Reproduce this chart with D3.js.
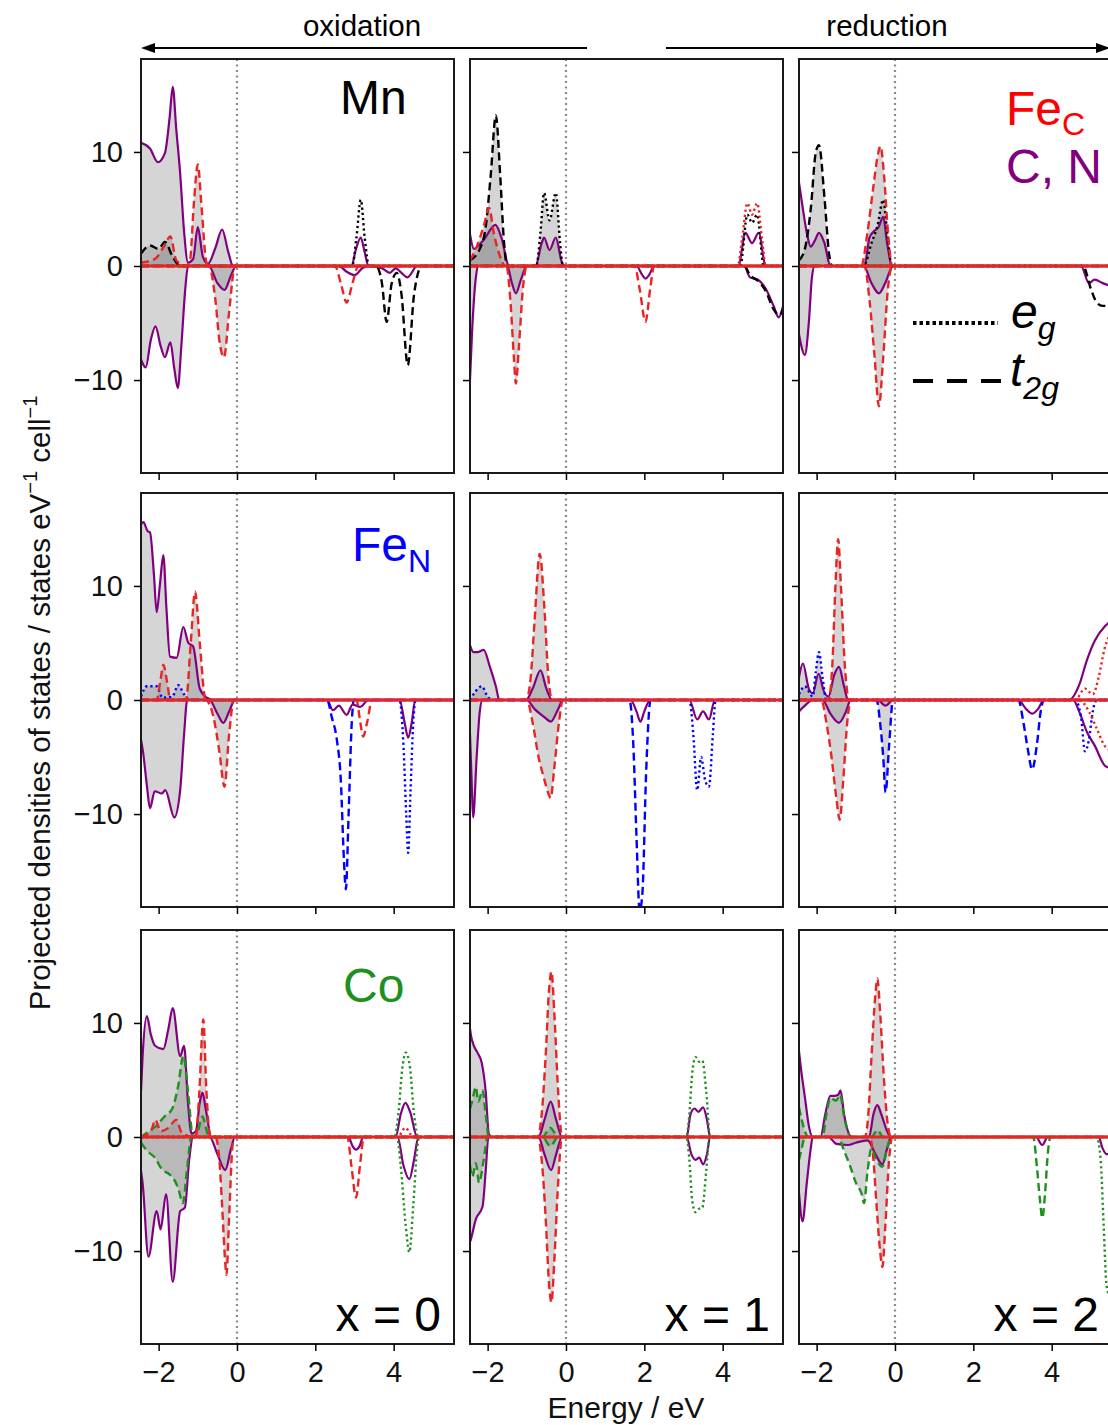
<!DOCTYPE html>
<html>
<head>
<meta charset="utf-8">
<script src="https://cdn.jsdelivr.net/npm/d3@7"></script>
<style>
  body { margin: 0; background: #fff; }
  text { font-family: "Liberation Sans", Arial, sans-serif; }
</style>
</head>
<body>
<svg width="1108" height="1425"></svg>
<script>
// axis ranges and tick labels
const energyDomain = [-2.45, 5.54];
const dosDomain = [-18.15, 18.15];
const energyTicks = [-2, 0, 2, 4];
const dosTicks = [-10, 0, 10];
const xValues = ["x = 0", "x = 1", "x = 2"];
const metals = ["Mn", "Fe", "Co"];
const metalSubs = ["", "N", ""];

// ---- Mn row : [energy (eV), PDOS] ----
const mn0CnUp = [[-2.45,10.8],[-2.22,10.3],[-2.02,9.1],[-1.84,9.9],[-1.72,13],[-1.64,15.7],[-1.55,12],[-1.45,8.1],[-1.35,3],[-1.25,0.3],[-1.12,0.6],[-1.0,3.4],[-0.87,0.8],[-0.74,0.2],[-0.55,1.6],[-0.38,3.2],[-0.22,1.2],[-0.1,0],[2.92,0],[3.04,1.5],[3.16,2.5],[3.26,1.2],[3.36,0]];
const mn0CnDn = [[-2.45,-8.2],[-2.33,-8.9],[-2.2,-6.5],[-2.08,-5.3],[-1.95,-7],[-1.84,-8.0],[-1.7,-6.7],[-1.6,-9],[-1.51,-10.7],[-1.42,-7],[-1.32,-2],[-1.25,0],[-0.72,0],[-0.5,-1.5],[-0.32,-2.1],[-0.15,-0.8],[-0.02,0],[2.6,0],[2.8,-0.5],[3.0,-0.8],[3.2,-0.2],[3.35,0],[3.7,-0.2],[3.9,-0.6],[4.05,-0.2],[4.2,-0.6],[4.35,-1.0],[4.6,0]];
const mn0T2gUp = [[-2.45,1.1],[-2.22,1.8],[-2.0,1.5],[-1.84,2.1],[-1.64,0.8],[-1.45,0]];
const mn0T2gDn = [[3.55,0],[3.7,-1.5],[3.82,-4.9],[3.95,-1.5],[4.08,-0.6],[4.2,-2.5],[4.36,-8.7],[4.52,-2.5],[4.72,0]];
const mn0EgUp = [[2.94,0],[3.05,2.5],[3.16,5.8],[3.26,2.5],[3.37,0]];
const mn0FecT2gUp = [[-2.45,0.3],[-2.1,0.6],[-1.85,1.8],[-1.7,2.6],[-1.55,0.5],[-1.3,0],[-1.2,0.5],[-1.1,5.5],[-1.0,8.9],[-0.9,5],[-0.78,0.3],[-0.7,0]];
const mn0FecT2gDn = [[-0.72,0],[-0.55,-3],[-0.45,-6.5],[-0.33,-8.0],[-0.2,-4],[-0.05,0],[2.5,0],[2.65,-1.5],[2.8,-3.2],[2.95,-1.5],[3.1,0]];

const mn1CnUp = [[-2.45,2.8],[-2.35,1.5],[-2.1,2.3],[-1.8,3.6],[-1.65,2.5],[-1.45,0],[-0.78,0],[-0.62,2.0],[-0.56,2.5],[-0.42,1.4],[-0.26,2.5],[-0.12,0.5],[-0.05,0],[4.4,0],[4.58,2.9],[4.75,2.0],[4.92,2.9],[5.1,0]];
const mn1CnDn = [[-2.45,-10],[-2.4,-6],[-2.3,-1],[-2.25,0],[-1.5,0],[-1.38,-1.5],[-1.28,-2.4],[-1.15,-1.2],[-1.0,0],[1.8,0],[1.95,-0.8],[2.03,-1.1],[2.12,-0.8],[2.25,0],[4.55,0],[4.7,-1.0],[4.9,-1.2],[5.1,-2],[5.3,-3.5],[5.43,-4.5],[5.54,-3.5]];
const mn1T2gUp = [[-2.45,0.5],[-2.2,1.5],[-2.05,3.4],[-1.92,8],[-1.79,13.2],[-1.68,8],[-1.58,2],[-1.5,0]];
const mn1T2gDn = [[4.55,0],[4.7,-0.8],[4.9,-1.3],[5.1,-2.2],[5.3,-3.8],[5.45,-4.3],[5.54,-3.8]];
const mn1EgUp = [[-0.76,0],[-0.65,3],[-0.56,6.4],[-0.42,4.0],[-0.26,6.4],[-0.15,2],[-0.08,0],[4.45,0],[4.63,4.5],[4.75,3.8],[4.88,4.5],[5.05,0]];
const mn1FecT2gUp = [[-2.45,0.5],[-2.3,1.5],[-2.1,3.5],[-1.96,5.1],[-1.85,3],[-1.7,1],[-1.55,0]];
const mn1FecT2gDn = [[-1.52,0],[-1.42,-3],[-1.33,-8],[-1.28,-10.3],[-1.2,-7],[-1.1,-2],[-1.0,0],[1.75,0],[1.88,-2],[2.03,-4.9],[2.15,-2],[2.25,0]];
const mn1FecEgUp = [[4.38,0],[4.5,2.5],[4.63,5.5],[4.75,4.5],[4.88,5.5],[5.0,2.5],[5.1,0]];

const mn2CnUp = [[-2.45,7.3],[-2.35,5],[-2.25,2.9],[-2.15,1.7],[-2.05,2.2],[-1.94,2.9],[-1.8,2.0],[-1.65,0],[-0.78,0],[-0.65,2.5],[-0.55,3.0],[-0.42,3.4],[-0.3,4.3],[-0.2,2],[-0.07,0]];
const mn2CnDn = [[-2.45,-6],[-2.3,-7.8],[-2.2,-5],[-2.12,-1],[-2.05,0],[-0.8,0],[-0.6,-1.5],[-0.41,-2.4],[-0.25,-1.5],[-0.05,0],[4.75,0],[4.95,-1.5],[5.1,-1.2],[5.3,-1.5],[5.54,-1.8]];
const mn2T2gUp = [[-2.45,0.5],[-2.3,1.5],[-2.15,5],[-2.02,10],[-1.94,10.6],[-1.8,6],[-1.68,1],[-1.6,0]];
const mn2T2gDn = [[4.8,0],[5.0,-2],[5.15,-3.2],[5.3,-3.5],[5.54,-3.5]];
const mn2EgUp = [[-0.8,0],[-0.6,2],[-0.45,3.5],[-0.3,5.8],[-0.2,3],[-0.08,0]];
const mn2FecT2gUp = [[-0.86,0],[-0.7,3],[-0.55,7],[-0.45,9.5],[-0.37,10.5],[-0.28,8],[-0.18,3],[-0.07,0]];
const mn2FecT2gDn = [[-0.78,0],[-0.65,-3],[-0.52,-8],[-0.41,-12.3],[-0.3,-8],[-0.18,-2],[-0.07,0]];

// ---- Fe_N row ----
const fe0CnUp = [[-2.45,15.4],[-2.39,15.6],[-2.28,14.8],[-2.22,14.7],[-2.12,11],[-2.05,7.7],[-1.97,10],[-1.88,12.7],[-1.8,8],[-1.71,3.8],[-1.54,3.7],[-1.37,6.4],[-1.24,5.0],[-1.12,4.7],[-0.95,1],[-0.77,0.2],[-0.6,0]];
const fe0CnDn = [[-2.45,-3.5],[-2.4,-4.5],[-2.3,-7.5],[-2.22,-9.5],[-2.1,-8.0],[-1.92,-8.2],[-1.83,-7.9],[-1.6,-10.3],[-1.45,-7.9],[-1.35,-3],[-1.27,0],[-0.7,0],[-0.5,-1.2],[-0.35,-2.0],[-0.2,-1.0],[-0.05,0],[2.3,0],[2.45,-0.9],[2.6,-0.5],[2.8,-1.3],[2.95,-0.4],[3.15,-0.6],[3.35,0],[4.15,0],[4.28,-2],[4.37,-3.3],[4.46,-2],[4.55,0]];
const fe0T2gDn = [[2.3,0],[2.42,-1.5],[2.55,-3.5],[2.65,-7],[2.73,-14],[2.78,-16.6],[2.85,-10],[2.93,-2],[2.98,0]];
const fe0EgUp = [[-2.45,0.3],[-2.3,1.2],[-2.05,1.2],[-1.9,0.2],[-1.65,0.3],[-1.5,1.3],[-1.35,0.5],[-1.2,0]];
const fe0EgDn = [[4.15,0],[4.25,-4],[4.32,-10],[4.37,-13.4],[4.43,-8],[4.5,-2],[4.56,0]];
const fe0FecT2gUp = [[-2.05,0],[-1.95,1.8],[-1.88,3.1],[-1.78,1.5],[-1.7,0],[-1.3,0],[-1.18,5],[-1.07,9.5],[-0.95,5],[-0.8,0]];
const fe0FecT2gDn = [[-0.8,0],[-0.6,-1.5],[-0.45,-4.5],[-0.32,-7.6],[-0.2,-3],[-0.08,0],[3.05,0],[3.15,-2],[3.22,-3.2],[3.32,-2],[3.45,0]];

const fe1CnUp = [[-2.45,4.8],[-2.36,4.2],[-2.26,4.2],[-2.1,4.4],[-1.95,3],[-1.79,1.2],[-1.7,0],[-1.02,0],[-0.85,1],[-0.65,2.6],[-0.5,1],[-0.35,0]];
const fe1CnDn = [[-2.45,-3],[-2.4,-8],[-2.37,-10.3],[-2.28,-5],[-2.2,-1],[-2.13,0],[-1.0,0],[-0.8,-0.8],[-0.55,-1.5],[-0.39,-1.9],[-0.2,-0.8],[-0.08,0],[1.65,0],[1.8,-1],[1.9,-1.9],[2.0,-1],[2.15,0],[3.15,0],[3.35,-1.7],[3.5,-1.0],[3.65,-1.7],[3.8,0]];
const fe1T2gDn = [[1.62,0],[1.72,-4],[1.8,-12],[1.88,-18.5],[1.95,-17],[2.05,-6],[2.16,0]];
const fe1EgUp = [[-2.45,0],[-2.3,0.8],[-2.15,1.2],[-2.0,0.3],[-1.85,0]];
const fe1EgDn = [[3.15,0],[3.25,-3],[3.35,-7.9],[3.45,-5],[3.55,-7],[3.65,-7.6],[3.75,-3],[3.82,0]];
const fe1FecT2gUp = [[-1.02,0],[-0.9,2],[-0.8,7],[-0.67,12.8],[-0.55,8],[-0.45,2],[-0.35,0]];
const fe1FecT2gDn = [[-1.0,0],[-0.85,-2],[-0.7,-5],[-0.55,-7],[-0.45,-8.2],[-0.39,-8.6],[-0.3,-6],[-0.18,-2],[-0.08,0]];

const fe2CnUp = [[-2.45,2],[-2.35,3.2],[-2.2,1.0],[-2.1,0.6],[-1.95,2.3],[-1.82,0.8],[-1.7,0.3],[-1.55,2.2],[-1.43,2.9],[-1.3,1.2],[-1.2,0],[4.45,0],[4.7,1.3],[4.9,3.5],[5.1,5.2],[5.37,6.5],[5.54,7]];
const fe2CnDn = [[-2.45,-1],[-2.3,-0.5],[-2.1,0],[-1.85,0],[-1.65,-1.2],[-1.43,-2.0],[-1.25,-1],[-1.13,0],[-0.45,0],[-0.24,-0.5],[-0.05,0],[3.15,0],[3.35,-0.8],[3.5,-1.2],[3.65,-0.8],[3.8,0],[4.55,0],[4.7,-1],[4.9,-2.8],[5.1,-4],[5.37,-5.8],[5.54,-6]];
const fe2T2gDn = [[-0.47,0],[-0.38,-2],[-0.3,-5],[-0.24,-8.1],[-0.15,-4],[-0.05,0],[3.15,0],[3.28,-2],[3.4,-4.5],[3.5,-6.1],[3.62,-4],[3.72,-1],[3.8,0]];
const fe2EgUp = [[-2.45,0.5],[-2.3,1.2],[-2.1,0.3],[-2.02,2.5],[-1.94,4.2],[-1.85,2],[-1.75,0]];
const fe2EgDn = [[4.6,0],[4.75,-1.5],[4.85,-4.5],[4.95,-3.5],[5.05,-1],[5.15,0]];
const fe2FecT2gUp = [[-1.7,0],[-1.6,3],[-1.52,10],[-1.45,14.1],[-1.38,10],[-1.28,3],[-1.17,0]];
const fe2FecT2gDn = [[-1.88,0],[-1.75,-2],[-1.62,-5],[-1.5,-8.5],[-1.41,-10.5],[-1.32,-7],[-1.22,-2],[-1.12,0]];
const fe2FecEgUp = [[4.6,0],[4.85,1],[5.05,0.5],[5.2,2],[5.35,4.5],[5.54,6]];
const fe2FecEgDn = [[4.7,0],[4.95,-1],[5.15,-2.5],[5.35,-4],[5.54,-4.5]];

// ---- Co row ----
const co0CnUp = [[-2.45,4],[-2.41,7],[-2.3,10.6],[-2.2,9],[-2.09,8.0],[-1.88,7.7],[-1.75,9.5],[-1.64,11.3],[-1.45,7.1],[-1.35,8.0],[-1.25,3],[-1.16,0.3],[-1.05,0.5],[-0.95,3],[-0.88,3.9],[-0.8,2.5],[-0.65,0],[4.05,0],[4.18,2],[4.3,3.0],[4.42,2.2],[4.6,0]];
const co0CnDn = [[-2.45,-3],[-2.41,-4],[-2.26,-10.5],[-2.05,-6.5],[-1.95,-8.1],[-1.81,-5.0],[-1.64,-12.7],[-1.45,-6.5],[-1.33,-6.2],[-1.22,-2],[-1.12,0],[-0.7,0],[-0.5,-1.5],[-0.3,-2.9],[-0.15,-1],[-0.05,0],[2.85,0],[2.95,-0.8],[3.04,-1.1],[3.13,-0.8],[3.22,0],[4.1,0],[4.25,-2.5],[4.4,-3.7],[4.52,-2],[4.63,0]];
const co0T2gUp = [[-2.45,0],[-2.25,0.5],[-2.05,1],[-1.85,1.8],[-1.65,2.5],[-1.5,4.5],[-1.37,7.1],[-1.25,4],[-1.12,0],[-1.0,0.5],[-0.88,1.8],[-0.75,0.3],[-0.65,0]];
const co0T2gDn = [[-2.45,-0.5],[-2.3,-1.2],[-2.1,-1.8],[-1.9,-2.9],[-1.75,-3.2],[-1.63,-3.6],[-1.5,-4.5],[-1.38,-5.8],[-1.28,-3],[-1.16,0]];
const co0EgUp = [[4.02,0],[4.12,2],[4.22,6],[4.31,7.4],[4.42,6],[4.52,2],[4.63,0]];
const co0EgDn = [[4.08,0],[4.18,-2.5],[4.3,-7.5],[4.4,-10.1],[4.5,-6],[4.6,-1],[4.65,0]];
const co0FecT2gUp = [[-2.45,0],[-2.2,0.5],[-2.08,1.5],[-1.95,0.5],[-1.75,0.8],[-1.55,1.5],[-1.4,0.3],[-1.05,0],[-0.96,4],[-0.86,10.3],[-0.78,4],[-0.68,0]];
const co0FecT2gDn = [[-0.55,0],[-0.45,-2],[-0.38,-6],[-0.3,-11],[-0.27,-12.1],[-0.2,-7],[-0.12,-1],[-0.08,0],[2.82,0],[2.92,-2.5],[3.04,-5.3],[3.14,-2.5],[3.24,0]];
const co0FecEgUp = [[4.1,0],[4.3,0.8],[4.5,0]];

const co1CnUp = [[-2.45,9.5],[-2.43,9.0],[-2.35,8],[-2.26,7.4],[-2.15,6.5],[-2.05,4],[-1.97,0.3],[-1.9,0],[-0.7,0],[-0.55,1.5],[-0.39,3.1],[-0.25,1.5],[-0.1,0],[3.08,0],[3.18,2.0],[3.28,2.5],[3.38,2.2],[3.5,2.6],[3.6,1.5],[3.68,0]];
const co1CnDn = [[-2.45,-9.2],[-2.43,-9.0],[-2.3,-7.2],[-2.13,-6.1],[-2.05,-3],[-1.98,0],[-0.7,0],[-0.55,-1.5],[-0.38,-2.9],[-0.25,-1.5],[-0.1,0],[3.08,0],[3.2,-1.5],[3.31,-2.0],[3.4,-1.8],[3.5,-2.4],[3.6,-1.5],[3.68,0]];
const co1T2gUp = [[-2.45,2.5],[-2.39,3.2],[-2.3,4.4],[-2.24,3.1],[-2.13,4.1],[-2.05,2],[-1.97,0],[-0.6,0],[-0.4,0.8],[-0.2,0]];
const co1T2gDn = [[-2.45,-2.5],[-2.39,-3.5],[-2.3,-2.3],[-2.22,-4],[-2.1,-2],[-2.0,0],[-0.6,0],[-0.4,-0.8],[-0.2,0]];
const co1EgUp = [[3.07,0],[3.15,2],[3.22,5.5],[3.31,7.0],[3.4,6.6],[3.48,6.7],[3.58,4],[3.68,0]];
const co1EgDn = [[3.07,0],[3.15,-2],[3.22,-5.5],[3.31,-6.6],[3.4,-6.3],[3.48,-6.2],[3.58,-3],[3.66,0]];
const co1FecT2gUp = [[-0.72,0],[-0.62,2],[-0.52,7],[-0.43,13],[-0.37,14.5],[-0.3,11],[-0.2,4],[-0.1,0]];
const co1FecT2gDn = [[-0.72,0],[-0.62,-2],[-0.52,-7],[-0.43,-13],[-0.37,-14.5],[-0.3,-11],[-0.2,-4],[-0.1,0]];

const co2CnUp = [[-2.45,7.5],[-2.4,6],[-2.3,3.5],[-2.2,1],[-2.1,0],[-1.9,0],[-1.78,2],[-1.65,3.6],[-1.55,3.6],[-1.45,3.7],[-1.39,4.1],[-1.3,2],[-1.1,0],[-0.66,0],[-0.55,2],[-0.45,2.8],[-0.35,2],[-0.2,0.5],[-0.1,0]];
const co2CnDn = [[-2.45,-4.9],[-2.36,-7.4],[-2.25,-4],[-2.15,-1],[-2.1,0],[-1.7,0],[-1.5,-0.6],[-1.2,-0.7],[-1.0,-0.5],[-0.7,-0.3],[-0.5,-1.5],[-0.32,-2.4],[-0.2,-1],[-0.1,0],[3.6,0],[3.76,-0.7],[3.9,0],[5.2,0],[5.3,-1],[5.4,-1.5],[5.54,-1.5]];
const co2T2gUp = [[-2.45,2.6],[-2.38,1.5],[-2.3,0.5],[-2.2,0],[-1.85,0],[-1.75,2],[-1.65,3.4],[-1.5,3.2],[-1.4,3.7],[-1.3,1.8],[-1.12,0],[-0.6,0],[-0.45,0.6],[-0.3,0]];
const co2T2gDn = [[-2.45,-2],[-2.38,-1],[-2.3,0],[-1.45,0],[-1.3,-1.2],[-1.15,-2.5],[-1.0,-4.0],[-0.85,-5],[-0.79,-5.8],[-0.7,-3],[-0.6,-1],[-0.5,-1.8],[-0.32,-2.6],[-0.2,-1],[-0.08,0],[3.53,0],[3.62,-2.5],[3.7,-5.5],[3.76,-7.1],[3.83,-5],[3.9,-1.5],[3.97,0]];
const co2EgDn = [[5.15,0],[5.25,-2],[5.33,-8],[5.4,-13],[5.5,-14]];
const co2FecT2gUp = [[-0.77,0],[-0.68,2],[-0.6,7],[-0.5,12.5],[-0.45,13.9],[-0.38,11],[-0.28,5],[-0.18,1],[-0.1,0]];
const co2FecT2gDn = [[-0.64,0],[-0.55,-2],[-0.47,-6],[-0.38,-10],[-0.32,-11.4],[-0.25,-8],[-0.15,-2],[-0.07,0]];

// rows = metal (Mn, Fe_N, Co), columns = x
const panels = [
  [
    { cn: [mn0CnUp, mn0CnDn], t2g: [mn0T2gUp, mn0T2gDn], eg: [mn0EgUp, []], fecT2g: [mn0FecT2gUp, mn0FecT2gDn], fecEg: [[], []] },
    { cn: [mn1CnUp, mn1CnDn], t2g: [mn1T2gUp, mn1T2gDn], eg: [mn1EgUp, []], fecT2g: [mn1FecT2gUp, mn1FecT2gDn], fecEg: [mn1FecEgUp, []] },
    { cn: [mn2CnUp, mn2CnDn], t2g: [mn2T2gUp, mn2T2gDn], eg: [mn2EgUp, []], fecT2g: [mn2FecT2gUp, mn2FecT2gDn], fecEg: [[], []] }
  ],
  [
    { cn: [fe0CnUp, fe0CnDn], t2g: [[], fe0T2gDn], eg: [fe0EgUp, fe0EgDn], fecT2g: [fe0FecT2gUp, fe0FecT2gDn], fecEg: [[], []] },
    { cn: [fe1CnUp, fe1CnDn], t2g: [[], fe1T2gDn], eg: [fe1EgUp, fe1EgDn], fecT2g: [fe1FecT2gUp, fe1FecT2gDn], fecEg: [[], []] },
    { cn: [fe2CnUp, fe2CnDn], t2g: [[], fe2T2gDn], eg: [fe2EgUp, fe2EgDn], fecT2g: [fe2FecT2gUp, fe2FecT2gDn], fecEg: [fe2FecEgUp, fe2FecEgDn] }
  ],
  [
    { cn: [co0CnUp, co0CnDn], t2g: [co0T2gUp, co0T2gDn], eg: [co0EgUp, co0EgDn], fecT2g: [co0FecT2gUp, co0FecT2gDn], fecEg: [co0FecEgUp, []] },
    { cn: [co1CnUp, co1CnDn], t2g: [co1T2gUp, co1T2gDn], eg: [co1EgUp, co1EgDn], fecT2g: [co1FecT2gUp, co1FecT2gDn], fecEg: [[], []] },
    { cn: [co2CnUp, co2CnDn], t2g: [co2T2gUp, co2T2gDn], eg: [[], co2EgDn], fecT2g: [co2FecT2gUp, co2FecT2gDn], fecEg: [[], []] }
  ]
];

// layout + styles
const colLeft = [141, 470, 799];
const rowTop = [59, 493, 930];
const panelW = 313;
const panelH = 414;
const metalColors = ["black", "blue", "#1f8f1f"];
const redC = "#e82525";
const purpleC = "#800080";
const dashed = "8,4.5";
const dotted = "2.2,3";

const svg = d3.select("svg");
const defs = svg.append("defs");

// curves go to zero at the panel edges
function padded(pts) {
  const out = pts.slice();
  if (out[0][0] > energyDomain[0]) out.unshift([energyDomain[0], 0]);
  if (out[out.length - 1][0] < energyDomain[1]) out.push([energyDomain[1], 0]);
  return out;
}

panels.forEach((row, r) => {
  row.forEach((p, c) => {
    const left = colLeft[c];
    const top = rowTop[r];
    const x = d3.scaleLinear().domain(energyDomain).range([left, left + panelW]);
    const y = d3.scaleLinear().domain(dosDomain).range([top + panelH, top]);
    const id = `p${r}${c}`;

    defs.append("clipPath").attr("id", `clip-${id}`)
      .append("rect").attr("x", left).attr("y", top).attr("width", panelW).attr("height", panelH);
    defs.append("clipPath").attr("id", `occ-${id}`)
      .append("rect").attr("x", left).attr("y", top).attr("width", x(0) - left).attr("height", panelH);

    const line = d3.line().x((d) => x(d[0])).y((d) => y(d[1])).curve(d3.curveMonotoneX);
    const area = d3.area().x((d) => x(d[0])).y0(y(0)).y1((d) => y(d[1])).curve(d3.curveMonotoneX);

    const series = [
      { pts: p.cn, color: purpleC, dash: null, w: 2.2 },
      { pts: p.t2g, color: metalColors[r], dash: dashed, w: 2.4 },
      { pts: p.eg, color: metalColors[r], dash: dotted, w: 2.4 },
      { pts: p.fecEg, color: redC, dash: dotted, w: 2.4 },
      { pts: p.fecT2g, color: redC, dash: dashed, w: 2.4 }
    ];

    // occupied states shaded (E < 0)
    const fills = svg.append("g").attr("clip-path", `url(#occ-${id})`);
    series.forEach((s) => {
      s.pts.filter((d) => d.length).forEach((d) => {
        fills.append("path").attr("d", area(padded(d)))
          .attr("fill", "grey").attr("fill-opacity", 0.33);
      });
    });

    // Fermi level
    svg.append("line")
      .attr("x1", x(0)).attr("x2", x(0))
      .attr("y1", top).attr("y2", top + panelH)
      .attr("stroke", "#8a8a8a").attr("stroke-width", 2.2)
      .attr("stroke-dasharray", "2,3.5");

    const lines = svg.append("g").attr("clip-path", `url(#clip-${id})`);
    series.forEach((s, i) => {
      if (i === 3) {
        // zero line
        lines.append("line")
          .attr("x1", x(energyDomain[0])).attr("x2", x(energyDomain[1]))
          .attr("y1", y(0)).attr("y2", y(0))
          .attr("stroke", redC).attr("stroke-width", 3);
      }
      s.pts.filter((d) => d.length).forEach((d) => {
        lines.append("path").attr("d", line(padded(d)))
          .attr("fill", "none")
          .attr("stroke", s.color)
          .attr("stroke-width", s.w)
          .attr("stroke-dasharray", s.dash);
      });
    });

    // frame
    svg.append("rect")
      .attr("x", left).attr("y", top).attr("width", panelW).attr("height", panelH)
      .attr("fill", "none").attr("stroke", "#1a1a1a").attr("stroke-width", 2);

    // axes
    svg.append("g")
      .attr("transform", `translate(${left},0)`)
      .call(d3.axisLeft(y).tickValues(dosTicks).tickSize(7).tickPadding(11)
        .tickFormat(c === 0 ? d3.format("d") : () => ""))
      .call((g) => g.select(".domain").remove())
      .call((g) => g.selectAll("line").attr("stroke-width", 1.5))
      .call((g) => g.selectAll("text").attr("font-size", 29).attr("fill", "#111"));

    svg.append("g")
      .attr("transform", `translate(0,${top + panelH})`)
      .call(d3.axisBottom(x).tickValues(energyTicks).tickSize(7).tickPadding(10)
        .tickFormat(r === 2 ? d3.format("d") : () => ""))
      .call((g) => g.select(".domain").remove())
      .call((g) => g.selectAll("line").attr("stroke-width", 1.5))
      .call((g) => g.selectAll("text").attr("font-size", 29).attr("fill", "#111"));

    if (r === 2) {
      svg.append("text")
        .attr("x", left + panelW - 13).attr("y", 1331)
        .attr("text-anchor", "end").attr("font-size", 48)
        .text(xValues[c]);
    }
  });
});

// metal labels in first column
const titlePos = [[340, 114], [352, 561], [343, 1002]];
metals.forEach((m, r) => {
  const t = svg.append("text")
    .attr("x", titlePos[r][0]).attr("y", titlePos[r][1])
    .attr("font-size", 48).attr("fill", metalColors[r])
    .text(m);
  if (metalSubs[r]) {
    t.append("tspan").attr("font-size", 32).attr("dy", 11).text(metalSubs[r]);
  }
});

// Fe_C / C, N labels
const fec = svg.append("text").attr("x", 1006).attr("y", 125)
  .attr("font-size", 48).attr("fill", "red").text("Fe");
fec.append("tspan").attr("font-size", 32).attr("dy", 10).text("C");
svg.append("text").attr("x", 1006).attr("y", 183)
  .attr("font-size", 48).attr("fill", purpleC).text("C, N");

// e_g / t_2g legend
svg.append("line").attr("x1", 913).attr("x2", 998).attr("y1", 323).attr("y2", 323)
  .attr("stroke", "black").attr("stroke-width", 4).attr("stroke-dasharray", "3.5,3");
svg.append("line").attr("x1", 913).attr("x2", 1007).attr("y1", 381).attr("y2", 381)
  .attr("stroke", "black").attr("stroke-width", 4).attr("stroke-dasharray", "20,14");
const eg = svg.append("text").attr("x", 1011).attr("y", 328)
  .attr("font-size", 48).attr("font-style", "italic").text("e");
eg.append("tspan").attr("font-size", 32).attr("dy", 11).text("g");
const t2g = svg.append("text").attr("x", 1010).attr("y", 386)
  .attr("font-size", 48).attr("font-style", "italic").text("t");
t2g.append("tspan").attr("font-size", 32).attr("dy", 13).text("2g");

// oxidation / reduction arrows
svg.append("text").attr("x", 362).attr("y", 36).attr("text-anchor", "middle")
  .attr("font-size", 29.5).text("oxidation");
svg.append("text").attr("x", 887).attr("y", 36).attr("text-anchor", "middle")
  .attr("font-size", 29.5).text("reduction");
svg.append("line").attr("x1", 587).attr("x2", 150).attr("y1", 48).attr("y2", 48)
  .attr("stroke", "black").attr("stroke-width", 2);
svg.append("path").attr("d", "M141,48 L155,43 L155,53 Z").attr("fill", "black");
svg.append("line").attr("x1", 666).attr("x2", 1100).attr("y1", 48).attr("y2", 48)
  .attr("stroke", "black").attr("stroke-width", 2);
svg.append("path").attr("d", "M1110,48 L1096,43 L1096,53 Z").attr("fill", "black");

// axis titles
const ylab = svg.append("text")
  .attr("transform", "translate(50,703) rotate(-90)")
  .attr("text-anchor", "middle").attr("font-size", 29.5).attr("fill", "#111");
ylab.append("tspan").text("Projected densities of states / states eV");
ylab.append("tspan").attr("font-size", 20).attr("dy", -13).text("−1");
ylab.append("tspan").attr("dy", 13).text(" cell");
ylab.append("tspan").attr("font-size", 20).attr("dy", -13).text("−1");

svg.append("text").attr("x", 626).attr("y", 1418).attr("text-anchor", "middle")
  .attr("font-size", 30).attr("fill", "#111").text("Energy / eV");
</script>
</body>
</html>
